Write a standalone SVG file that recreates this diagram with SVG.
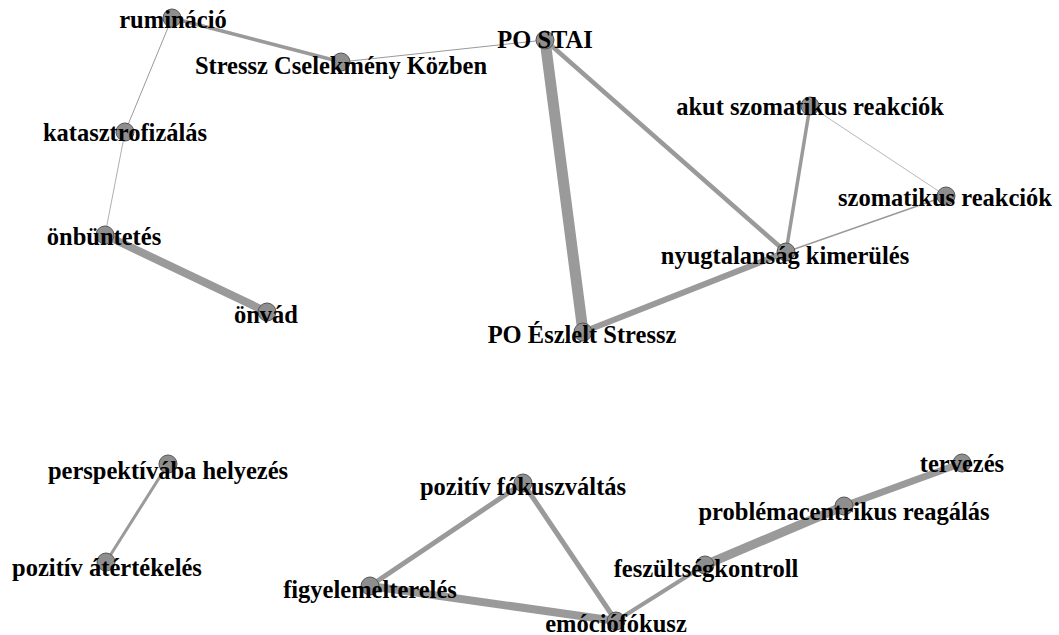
<svg xmlns="http://www.w3.org/2000/svg" width="1059" height="635" viewBox="0 0 1059 635">
<style>
.e{stroke:#9a9a9a;stroke-linecap:round;fill:none}
.n{fill:#8e8e8e;stroke:#555;stroke-width:1}
.t{font-family:"Liberation Serif","Times New Roman",serif;font-weight:bold;font-size:24.5px;fill:#000;text-anchor:middle}
</style>
<rect width="1059" height="635" fill="#fff"/>
<g id="connectors">
<line class="e" x1="172" y1="18" x2="341" y2="62" stroke-width="3.5"/>
<line class="e" x1="341" y1="62" x2="545" y2="40" stroke-width="1"/>
<line class="e" x1="172" y1="18" x2="125" y2="132" stroke-width="1"/>
<line class="e" x1="125" y1="132" x2="105" y2="235" stroke-width="0.8"/>
<line class="e" x1="105" y1="235" x2="267" y2="312" stroke-width="8"/>
<line class="e" x1="545" y1="40" x2="583" y2="332" stroke-width="11"/>
<line class="e" x1="545" y1="40" x2="786" y2="252" stroke-width="4.5"/>
<line class="e" x1="810" y1="106" x2="786" y2="252" stroke-width="3.5"/>
<line class="e" x1="810" y1="106" x2="946" y2="196" stroke-width="0.7"/>
<line class="e" x1="946" y1="196" x2="786" y2="252" stroke-width="1.5"/>
<line class="e" x1="786" y1="252" x2="583" y2="332" stroke-width="6"/>
<line class="e" x1="168" y1="464" x2="106" y2="562" stroke-width="3"/>
<line class="e" x1="523" y1="483" x2="370" y2="586" stroke-width="5"/>
<line class="e" x1="523" y1="483" x2="616" y2="621" stroke-width="5"/>
<line class="e" x1="370" y1="586" x2="616" y2="621" stroke-width="8"/>
<line class="e" x1="616" y1="621" x2="705" y2="565" stroke-width="4"/>
<line class="e" x1="705" y1="565" x2="844" y2="506" stroke-width="9"/>
<line class="e" x1="844" y1="506" x2="962" y2="463" stroke-width="7"/>
</g>
<g id="n-ruminacio"><circle class="n" cx="172" cy="18" r="9"/><text class="t" x="173" y="28">rumináció</text></g>
<g id="n-stressz"><circle class="n" cx="341" cy="62" r="9"/><text class="t" x="341" y="74">Stressz Cselekmény Közben</text></g>
<g id="n-postai"><circle class="n" cx="545" cy="40" r="9"/><text class="t" x="545" y="48">PO STAI</text></g>
<g id="n-katasztrofizalas"><circle class="n" cx="125" cy="132" r="9"/><text class="t" x="125" y="141">katasztrofizálás</text></g>
<g id="n-onbuntetes"><circle class="n" cx="105" cy="235" r="9"/><text class="t" x="104" y="245">önbüntetés</text></g>
<g id="n-onvad"><circle class="n" cx="267" cy="312" r="9"/><text class="t" x="266" y="323">önvád</text></g>
<g id="n-akut"><circle class="n" cx="810" cy="106" r="9"/><text class="t" x="810" y="115">akut szomatikus reakciók</text></g>
<g id="n-szomatikus"><circle class="n" cx="946" cy="196" r="9"/><text class="t" x="945" y="206">szomatikus reakciók</text></g>
<g id="n-nyugtalansag"><circle class="n" cx="786" cy="252" r="9"/><text class="t" x="785" y="264">nyugtalanság kimerülés</text></g>
<g id="n-poeszlelt"><circle class="n" cx="583" cy="332" r="9"/><text class="t" x="582" y="343">PO Észlelt Stressz</text></g>
<g id="n-perspektiva"><circle class="n" cx="168" cy="464" r="9"/><text class="t" x="168" y="479">perspektívába helyezés</text></g>
<g id="n-atertekeles"><circle class="n" cx="106" cy="562" r="9"/><text class="t" x="107" y="576">pozitív átértékelés</text></g>
<g id="n-fokuszvaltas"><circle class="n" cx="523" cy="483" r="9"/><text class="t" x="523" y="495">pozitív fókuszváltás</text></g>
<g id="n-figyelem"><circle class="n" cx="370" cy="586" r="9"/><text class="t" x="370" y="598">figyelemelterelés</text></g>
<g id="n-emocio"><circle class="n" cx="616" cy="621" r="9"/><text class="t" x="616" y="632">emóciófókusz</text></g>
<g id="n-feszultseg"><circle class="n" cx="705" cy="565" r="9"/><text class="t" x="706" y="577">feszültségkontroll</text></g>
<g id="n-problema"><circle class="n" cx="844" cy="506" r="9"/><text class="t" x="844" y="520">problémacentrikus reagálás</text></g>
<g id="n-tervezes"><circle class="n" cx="962" cy="463" r="9"/><text class="t" x="962" y="472">tervezés</text></g>
</svg>
